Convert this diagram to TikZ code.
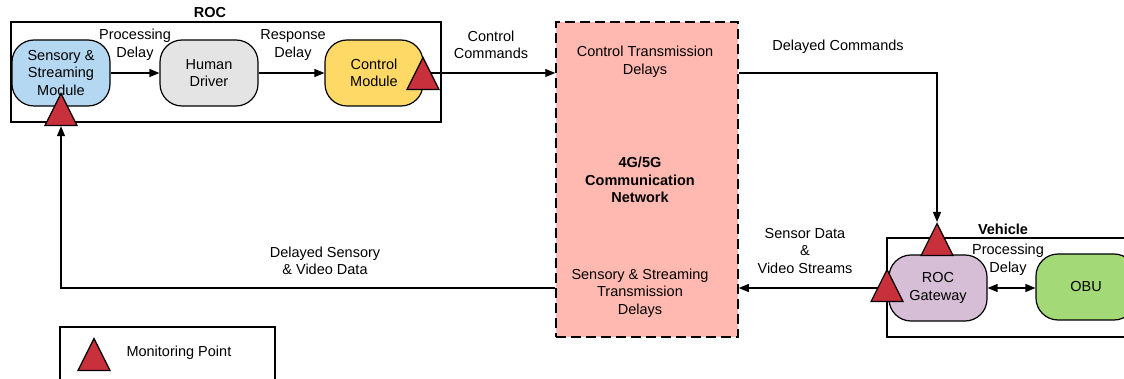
\documentclass[tikz,border=0pt]{standalone}
\usepackage{fontspec}
\setmainfont{Liberation Sans}
\usetikzlibrary{positioning,calc,shapes,arrows.meta,backgrounds}

\definecolor{sensblue}{HTML}{B5D8F2}
\definecolor{drivergray}{HTML}{E4E4E4}
\definecolor{ctrlyellow}{HTML}{FFD966}
\definecolor{netpink}{HTML}{FFB9B0}
\definecolor{gwpurple}{HTML}{D5BED6}
\definecolor{obugreen}{HTML}{A3D977}
\definecolor{monred}{HTML}{C8303C}

\begin{document}
\begin{tikzpicture}[x=1pt, y=-1pt, font=\fontsize{14.5}{17.5}\selectfont,
    module/.style={draw, line width=1.2pt, rounded corners=22pt, minimum width=98pt, minimum height=66pt, align=center, inner sep=2pt},
    frame/.style={draw, line width=1.2pt},
    mon/.style={isosceles triangle, isosceles triangle stretches, shape border rotate=90, minimum width=32pt, minimum height=32pt, inner sep=0pt, draw, line width=1.2pt, fill=monred, anchor=apex},
    lbl/.style={align=center},
    title/.style={font=\fontsize{14.5}{17.5}\selectfont\bfseries, align=center},
    flow/.style={line width=1.2pt, -{Triangle[length=10pt,width=8pt]}}]
  \useasboundingbox (0,0) rectangle (1124,379);

  % ROC side
  \draw[frame] (11,22) rectangle (441,122);
  \node[title] (roctitle) at (210,13) {ROC};
  \node[module, fill=sensblue] (sens) at (61,73) {Sensory \&\\Streaming\\Module};
  \node[module, fill=drivergray] (human) at (209,73) {Human\\Driver};
  \node[module, fill=ctrlyellow] (ctrl) at (374,73) {Control\\Module};

  % network
  \node[draw, line width=1.5pt, dash pattern=on 10pt off 5pt, fill=netpink, minimum width=182pt, minimum height=315pt] (net) at (647,179.5) {};
  \node[lbl] (ctrldelay) at (645,62) {Control Transmission\\Delays};
  \node[title] (nettitle) at (640,180) {4G/5G\\Communication\\Network};
  \node[lbl] (sensdelay) at (640,293) {Sensory \& Streaming\\Transmission\\Delays};

  % vehicle side
  \draw[frame] (887,238) rectangle (1127,337);
  \node[title] (vehtitle) at (1003,229) {Vehicle};
  \node[module, fill=gwpurple] (gw) at (938,288) {ROC\\Gateway};
  \node[module, fill=obugreen, minimum width=100pt] (obu) at (1086,287) {OBU};

  % legend
  \draw[frame] (60,327) rectangle (275,381);
  \node[lbl, anchor=west] (montext) at (123,353) {Monitoring Point};

  % monitoring points
  \node[mon] (mpSens) at (61,92) {};
  \node[mon] (mpCtrl) at (423,56) {};
  \node[mon] (mpTop) at (937,222) {};
  \node[mon] (mpGw) at (887,268) {};
  \node[mon] (mpKey) at (94,337) {};

  % connectors
  \begin{scope}[on background layer]
    \draw[flow] (sens) -- (human);
    \draw[flow] (human) -- (ctrl);
    \draw[flow] (ctrl.east) -- (ctrl.east -| net.west);
    \draw[flow] (net.east |- ctrl.east) -| (mpTop.apex);
    \draw[line width=1.2pt, {Triangle[length=10pt,width=8pt]}-{Triangle[length=10pt,width=8pt]}] (gw.east) -- (gw.east -| obu.west);
    \draw[flow] (gw.west) -- (gw.west -| net.east);
    \draw[flow] (net.west |- gw.west) -| (mpSens.south);
  \end{scope}

  % connector labels
  \node[lbl] (procdelay) at (135,45) {Processing\\Delay};
  \node[lbl] (respdelay) at (293,45) {Response\\Delay};
  \node[lbl] (ctrlcmd) at (491,45) {Control\\Commands};
  \node[lbl] (delaycmd) at (838,47) {Delayed Commands};
  \node[lbl] (sensdata) at (805,251) {Sensor Data\\\&\\Video Streams};
  \node[lbl] (vehdelay) at (1008,260) {Processing\\Delay};
  \node[lbl] (delaysens) at (325,261) {Delayed Sensory\\\& Video Data};
\end{tikzpicture}
\end{document}
